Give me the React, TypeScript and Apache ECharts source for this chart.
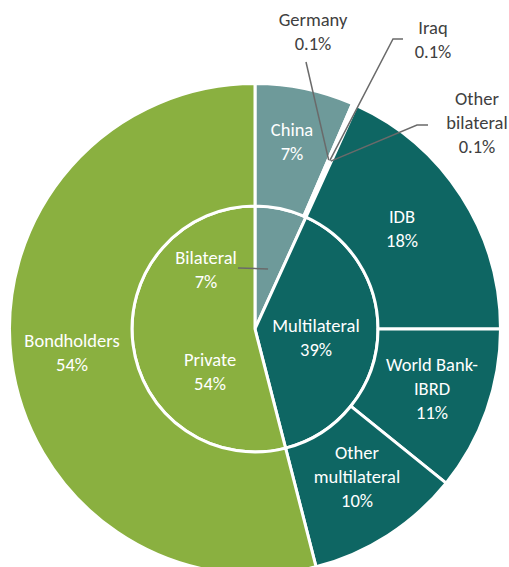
import React, { useEffect, useRef } from "react";
import * as echarts from "echarts";

// Inner ring (creditor type), % of total
const innerNames = ["Bilateral", "Multilateral", "Private"];
const innerValues = [6.8, 39.2, 54.0];

// Outer ring (creditor), % of total
const outerNames = [
  "China",
  "Germany",
  "Iraq",
  "Other bilateral",
  "IDB",
  "World Bank-IBRD",
  "Other multilateral",
  "Bondholders",
];
const outerValues = [6.5, 0.1, 0.1, 0.1, 18.2, 10.8, 10.2, 54.0];

// Display text with line breaks
const displayText: Record<string, string> = {
  "Other bilateral": "Other\nbilateral",
  "World Bank-IBRD": "World Bank-\nIBRD",
  "Other multilateral": "Other\nmultilateral",
};

const COLORS: Record<string, string> = {
  Bilateral: "#6E9A9A",
  China: "#6E9A9A",
  Germany: "#6E9A9A",
  Iraq: "#6E9A9A",
  "Other bilateral": "#6E9A9A",
  Multilateral: "#0E6663",
  IDB: "#0E6663",
  "World Bank-IBRD": "#0E6663",
  "Other multilateral": "#0E6663",
  Private: "#8AB040",
  Bondholders: "#8AB040",
};

const CX = 255;
const CY = 329;
const R_INNER = 123;
const R_OUTER = 245.5;

// label block centres
const LABEL_POS: Record<string, [number, number]> = {
  China: [292, 141],
  Germany: [313, 31],
  Iraq: [433, 39],
  "Other bilateral": [477, 122],
  IDB: [402, 228],
  "World Bank-IBRD": [432, 388],
  "Other multilateral": [357, 476],
  Bondholders: [72, 352],
  Bilateral: [206, 269],
  Multilateral: [316, 337],
  Private: [210, 371],
};

const OUTSIDE = new Set(["Germany", "Iraq", "Other bilateral"]);

// leader-line anchor points near the labels
const LEADER_START: Record<string, [number, number][]> = {
  Germany: [[306, 62]],
  Iraq: [[403, 39], [393, 39]],
  "Other bilateral": [[428, 125], [417, 125]],
  Bilateral: [[238, 268]],
};

function fmtPct(v: number) {
  return v < 1 ? v.toFixed(1) + "%" : Math.round(v) + "%";
}

function slicePoint(values: number[], idx: number, r: number): [number, number] {
  const total = values.reduce((a, b) => a + b, 0);
  let cum = 0;
  for (let i = 0; i < idx; i++) cum += values[i];
  cum += values[idx] / 2;
  const a = (cum / total) * Math.PI * 2;
  return [CX + r * Math.sin(a), CY - r * Math.cos(a)];
}

const FONT = "Carlito, Lato, sans-serif";

export default function App() {
  const ref = useRef<HTMLDivElement>(null);
  useEffect(() => {
    if (!ref.current) return;
    const chart = echarts.init(ref.current, undefined, { renderer: "svg" });

    const makeLabelLayout = (names: string[]) => (params: any) => {
      const name = names[params.dataIndex];
      const p = LABEL_POS[name];
      if (!p) return {};
      return { x: p[0], y: p[1], align: "center", verticalAlign: "middle" };
    };

    const leaderLines: any[] = [];
    Object.keys(LEADER_START).forEach((name) => {
      let end: [number, number];
      const oi = outerNames.indexOf(name);
      if (oi >= 0) {
        end = slicePoint(outerValues, oi, (R_INNER + R_OUTER) / 2);
      } else {
        const ii = innerNames.indexOf(name);
        end = slicePoint(innerValues, ii, R_INNER / 2);
      }
      leaderLines.push({
        type: "polyline",
        z: 100,
        shape: { points: [...LEADER_START[name], end] },
        style: { stroke: "#6a6a6a", lineWidth: 1.5, fill: null },
      });
    });

    const labelBase = {
      show: true,
      position: "inside",
      color: "#ffffff",
      fontFamily: FONT,
      fontSize: 18.5,
      lineHeight: 24,
      align: "center",
    };

    const option: any = {
      animation: false,
      graphic: leaderLines,
      series: [
        {
          type: "pie",
          center: [CX, CY],
          radius: [0, R_INNER],
          startAngle: 90,
          clockwise: true,
          avoidLabelOverlap: false,
          itemStyle: { borderColor: "#ffffff", borderWidth: 3 },
          label: {
            ...labelBase,
            formatter: (p: any) => p.name + "\n" + fmtPct(p.value),
          },
          labelLine: { show: false },
          labelLayout: makeLabelLayout(innerNames),
          emphasis: { disabled: true },
          data: innerNames.map((n, i) => ({
            name: n,
            value: innerValues[i],
            itemStyle: { color: COLORS[n] },
          })),
        },
        {
          type: "pie",
          center: [CX, CY],
          radius: [R_INNER, R_OUTER],
          startAngle: 90,
          clockwise: true,
          avoidLabelOverlap: false,
          itemStyle: { borderColor: "#ffffff", borderWidth: 3 },
          label: {
            ...labelBase,
            formatter: (p: any) =>
              (displayText[p.name] || p.name) + "\n" + fmtPct(p.value),
          },
          labelLine: { show: false },
          labelLayout: makeLabelLayout(outerNames),
          emphasis: { disabled: true },
          data: outerNames.map((n, i) => ({
            name: n,
            value: outerValues[i],
            itemStyle: { color: COLORS[n] },
            label: OUTSIDE.has(n) ? { color: "#404040" } : undefined,
          })),
        },
      ],
    };
    chart.setOption(option);
    return () => chart.dispose();
  }, []);

  return (
    <div
      ref={ref}
      style={{ position: "absolute", left: 0, top: 0, width: 509, height: 567 }}
    />
  );
}
